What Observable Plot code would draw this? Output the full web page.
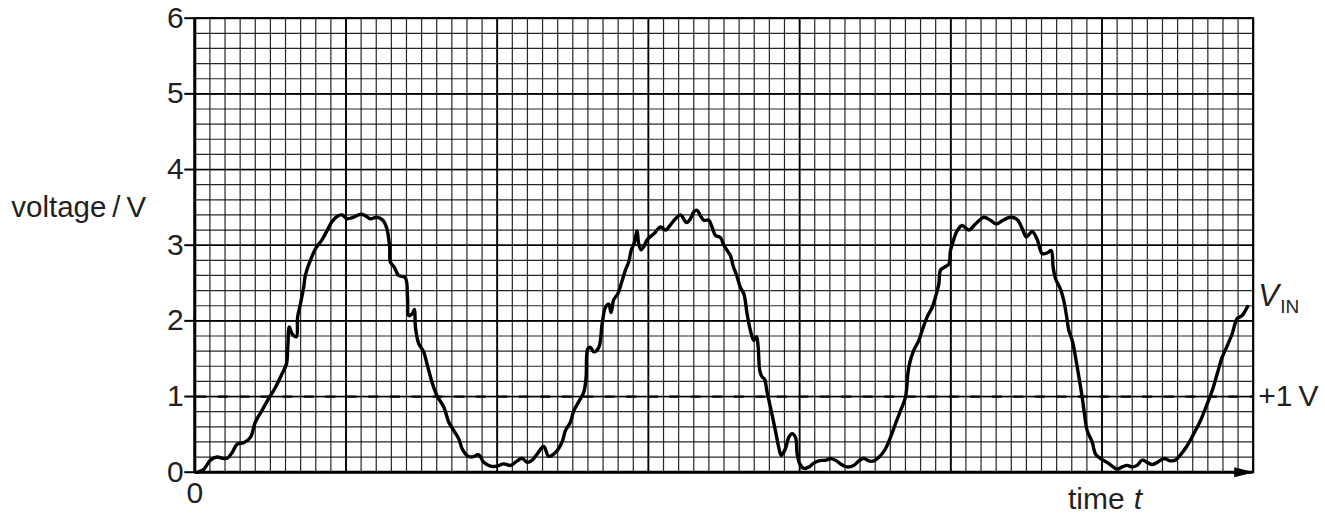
<!DOCTYPE html>
<html>
<head>
<meta charset="utf-8">
<script src="https://cdn.jsdelivr.net/npm/d3@7"></script>
<script src="https://cdn.jsdelivr.net/npm/@observablehq/plot@0.6"></script>
<style>
  html, body { margin: 0; padding: 0; background: #fff; }
  #chart { width: 1325px; height: 516px; }
</style>
</head>
<body>
<div id="chart"></div>
<script>
// time in minor grid squares (70 across), voltage in V
const time = [0.2,0.6,1.03,1.48,1.8,2.14,2.47,2.8,3.24,3.68,4.0,4.45,4.9,5.33,5.77,6.06,6.15,6.25,6.43,6.72,6.8,6.98,7.2,7.31,7.64,8.04,8.41,8.74,9.07,9.4,9.74,10.07,10.5,10.99,11.28,11.6,12.05,12.44,12.7,12.89,12.93,13.19,13.48,13.92,14.07,14.15,14.37,14.53,14.59,14.81,15.14,15.36,15.69,16.02,16.47,16.8,17.13,17.46,17.68,18.01,18.34,18.78,19.11,19.55,19.99,20.43,20.88,21.32,21.65,21.98,22.31,22.64,23.08,23.41,23.85,24.29,24.51,24.84,25.06,25.39,25.73,25.88,25.99,26.17,26.39,26.72,26.94,27.16,27.38,27.53,27.71,27.98,28.26,28.48,28.7,28.86,29.08,29.25,29.36,29.52,29.69,29.91,30.36,30.8,31.13,31.46,31.79,32.12,32.52,32.78,33.0,33.22,33.44,33.66,33.99,34.21,34.43,34.77,34.99,35.21,35.43,35.6,35.87,36.09,36.31,36.53,36.75,36.97,37.15,37.26,37.37,37.52,37.68,37.85,38.07,38.4,38.62,38.78,39.06,39.28,39.5,39.73,39.84,40.01,40.28,40.61,40.94,41.27,41.75,42.08,42.44,42.7,43.14,43.58,43.92,44.25,44.58,44.91,45.35,45.68,46.01,46.34,46.67,47.0,47.11,47.16,47.29,47.55,47.88,48.1,48.43,48.77,49.05,49.21,49.32,49.58,49.87,49.98,50.2,50.42,50.75,51.19,51.63,52.18,52.62,53.02,53.46,53.95,54.39,54.72,55.0,55.38,55.71,56.04,56.4,56.64,56.77,56.92,57.25,57.47,57.65,57.81,58.03,58.25,58.47,58.69,58.84,59.02,59.35,59.57,59.9,60.34,60.67,61.0,61.33,61.66,61.99,62.32,62.66,62.99,63.32,63.65,64.09,64.53,64.86,65.19,65.63,66.07,66.51,66.95,67.29,67.62,67.95,68.28,68.61,68.94,69.27,69.49,69.64];
const voltage = [0.0,0.04,0.16,0.2,0.185,0.185,0.26,0.37,0.39,0.46,0.66,0.82,0.98,1.12,1.30,1.43,1.65,1.92,1.83,1.79,2.05,2.22,2.44,2.6,2.8,2.97,3.07,3.19,3.31,3.38,3.4,3.35,3.37,3.41,3.39,3.35,3.37,3.33,3.22,2.97,2.78,2.71,2.6,2.57,2.31,2.07,2.09,2.15,1.92,1.70,1.59,1.43,1.19,1.01,0.86,0.66,0.55,0.44,0.31,0.22,0.2,0.23,0.13,0.08,0.08,0.11,0.09,0.15,0.185,0.13,0.16,0.24,0.34,0.21,0.26,0.40,0.55,0.66,0.81,0.93,1.06,1.26,1.63,1.65,1.59,1.65,1.96,2.18,2.22,2.11,2.28,2.36,2.53,2.67,2.78,2.93,3.04,3.19,3.02,2.94,2.98,3.07,3.15,3.24,3.2,3.27,3.35,3.4,3.3,3.35,3.44,3.46,3.39,3.33,3.33,3.24,3.13,3.10,3.0,2.93,2.86,2.73,2.58,2.44,2.36,2.09,1.87,1.74,1.79,1.65,1.34,1.26,1.23,1.06,0.86,0.55,0.33,0.22,0.31,0.46,0.51,0.46,0.24,0.11,0.05,0.07,0.12,0.15,0.16,0.18,0.15,0.11,0.07,0.09,0.15,0.185,0.15,0.15,0.22,0.31,0.46,0.64,0.81,0.99,1.17,1.30,1.45,1.61,1.74,1.87,2.05,2.18,2.36,2.49,2.67,2.71,2.75,2.93,3.08,3.19,3.26,3.2,3.28,3.37,3.33,3.28,3.33,3.37,3.34,3.22,3.11,3.18,3.08,2.89,2.9,2.93,2.71,2.56,2.42,2.27,2.07,1.87,1.74,1.52,1.26,0.99,0.77,0.55,0.40,0.24,0.18,0.13,0.08,0.04,0.07,0.09,0.07,0.09,0.16,0.13,0.10,0.13,0.18,0.15,0.16,0.23,0.35,0.51,0.68,0.90,1.08,1.30,1.52,1.67,1.83,2.03,2.07,2.14,2.19];

const yTicks = [0, 1, 2, 3, 4, 5, 6];
const refLevel = [1];
const minorX = d3.range(0, 71, 1);
const majorX = d3.range(0, 71, 10);
const minorY = d3.range(0, 6.01, 0.2);
const majorY = d3.range(0, 7, 1);

const data = time.map((t, i) => ({t, v: voltage[i]}));

const ink = "#231f20";
const font = "'Liberation Sans', Arial, Helvetica, sans-serif";

const arrowHead = {
  draw(ctx) {
    ctx.moveTo(1, 0);
    ctx.lineTo(-19, -5);
    ctx.lineTo(-19, 5);
    ctx.closePath();
  }
};

const chart = Plot.plot({
  width: 1325,
  height: 516,
  marginLeft: 194.3,
  marginRight: 72.3,
  marginTop: 17.7,
  marginBottom: 44.3,
  style: {fontFamily: font, background: "#fff", color: ink, overflow: "visible"},
  x: {domain: [0, 70], axis: null},
  y: {domain: [0, 6], axis: null},
  marks: [
    Plot.ruleX(minorX, {stroke: "#000", strokeWidth: 1.2, strokeOpacity: 0.85}),
    Plot.ruleY(minorY, {stroke: "#000", strokeWidth: 1.2, strokeOpacity: 0.85}),
    Plot.ruleX(majorX, {stroke: "#000", strokeWidth: 1.8}),
    Plot.ruleY(majorY, {stroke: "#000", strokeWidth: 1.6}),
    Plot.frame({stroke: "#000", strokeWidth: 2}),
    Plot.ruleY(refLevel, {stroke: "#000", strokeWidth: 2.2, strokeDasharray: "10,11.5", strokeDashoffset: -2}),
    Plot.line(data, {x: "t", y: "v", stroke: "#000", strokeWidth: 3.4, curve: "catmull-rom", strokeLinejoin: "round", strokeLinecap: "round"}),
    Plot.ruleX([0], {stroke: "#000", strokeWidth: 3}),
    Plot.ruleY([0], {stroke: "#000", strokeWidth: 3}),
    Plot.dot([{x: 70, y: 0}], {x: "x", y: "y", symbol: arrowHead, fill: "#000", stroke: null}),
    Plot.axisY(yTicks, {tickSize: 10, tickPadding: 1, fontSize: 30, strokeWidth: 2, stroke: "#000", fill: ink, tickFormat: d => String(d), label: null}),
    Plot.text(["0"], {x: () => 0, y: () => 0, dy: 21, fontSize: 30, fill: ink}),
    Plot.text(["voltage\u2009/\u2009V"], {frameAnchor: "left", y: () => 3.5, dx: -183.5, textAnchor: "start", fontSize: 29.5, fill: ink}),
    Plot.text(["time"], {x: () => 61.5, y: () => 0, dy: 27, textAnchor: "end", fontSize: 30, fill: ink}),
    Plot.text(["t"], {x: () => 61.5, y: () => 0, dy: 27, dx: 9, textAnchor: "start", fontSize: 30, fontStyle: "italic", fill: ink}),
    Plot.text(["V"], {x: () => 70, y: () => 2.33, dx: 5, textAnchor: "start", fontSize: 31, fontStyle: "italic", fill: ink}),
    Plot.text(["IN"], {x: () => 70, y: () => 2.18, dx: 27, textAnchor: "start", fontSize: 19, fill: ink}),
    Plot.text(["+1\u2009V"], {x: () => 70, y: () => 1, dx: 5, textAnchor: "start", fontSize: 30, fill: ink})
  ]
});

document.getElementById("chart").appendChild(chart);
</script>
</body>
</html>
